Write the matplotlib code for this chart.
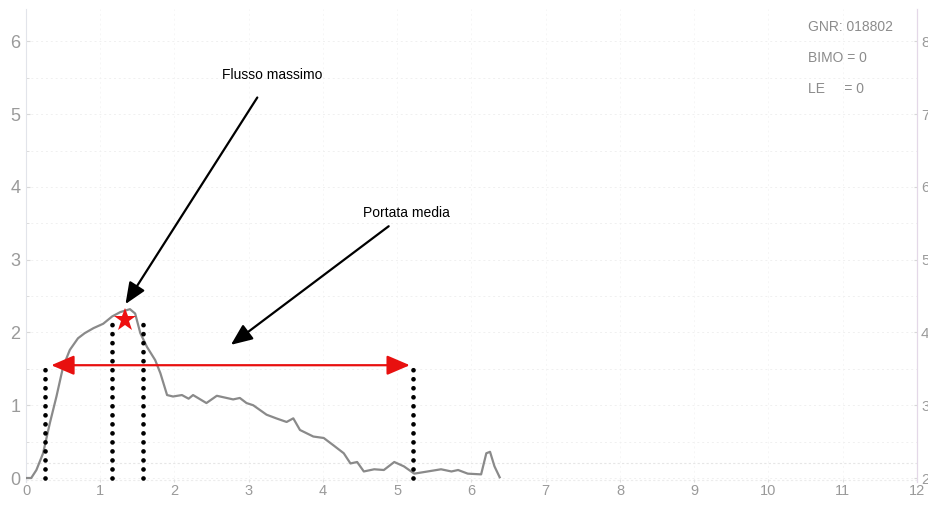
import matplotlib.pyplot as plt
from matplotlib.ticker import MultipleLocator

plt.rcParams["font.family"] = ["Liberation Sans", "DejaVu Sans"]

# flow curve (time in s, flow)
time_s = [0.00, 0.07, 0.14, 0.23, 0.32, 0.41, 0.50, 0.59, 0.70, 0.79, 0.91, 1.04,
          1.16, 1.27, 1.40, 1.47, 1.54, 1.63, 1.74, 1.81, 1.90, 1.98, 2.10, 2.19,
          2.25, 2.43, 2.57, 2.79, 2.88, 2.97, 3.06, 3.24, 3.37, 3.51, 3.60, 3.69,
          3.87, 4.01, 4.14, 4.28, 4.37, 4.46, 4.55, 4.69, 4.82, 4.96, 5.09, 5.23,
          5.41, 5.59, 5.73, 5.82, 5.95, 6.13, 6.20, 6.25, 6.31, 6.38]
flow = [0.00, 0.00, 0.11, 0.34, 0.75, 1.12, 1.53, 1.76, 1.92, 1.99, 2.06, 2.12,
        2.22, 2.28, 2.32, 2.26, 1.99, 1.80, 1.62, 1.44, 1.14, 1.12, 1.14, 1.09,
        1.14, 1.03, 1.13, 1.08, 1.10, 1.03, 1.00, 0.87, 0.82, 0.77, 0.82, 0.66,
        0.57, 0.55, 0.45, 0.34, 0.20, 0.22, 0.09, 0.12, 0.11, 0.22, 0.16, 0.06,
        0.09, 0.12, 0.09, 0.11, 0.06, 0.05, 0.34, 0.36, 0.16, 0.01]

# dotted markers: (x, height)
marker_x = [0.26, 1.16, 1.58, 5.21]
marker_top = [1.58, 2.12, 2.12, 1.51]

peak_x, peak_y = 1.34, 2.17
mean_y = 1.55
mean_start, mean_end = 0.34, 5.17

info_lines = ["GNR: 018802", "BIMO = 0", "LE     = 0"]

GRAY = "#9a9a9a"

fig = plt.figure(figsize=(9.29, 5.07), dpi=100)
ax = fig.add_axes([0.028, 0.050, 0.959, 0.933])
ax.set_xlim(0, 12)
ax.set_ylim(-0.05, 6.45)

ax.spines["top"].set_visible(False)
ax.spines["bottom"].set_visible(False)
for side in ["left", "right"]:
    ax.spines[side].set_color("#e2e4ea")
    ax.spines[side].set_linewidth(0.8)

ax.xaxis.set_major_locator(MultipleLocator(1))
ax.yaxis.set_major_locator(MultipleLocator(1))
ax.yaxis.set_minor_locator(MultipleLocator(0.5))
ax.tick_params(axis="y", colors="#d8d8d8", labelcolor=GRAY, labelsize=13,
               length=3, direction="in", pad=4)
ax.tick_params(axis="y", which="minor", colors="#d8d8d8", length=2, direction="in")
ax.tick_params(axis="x", colors="#e0e0e0", labelcolor=GRAY, labelsize=10.5,
               length=2, direction="in", pad=2)
ax.grid(axis="y", which="both", color="#f0f0f0", linestyle=(0, (2, 3)), linewidth=0.7)
ax.grid(axis="x", color="#f6f6f6", linestyle=(0, (2, 3)), linewidth=0.7)
ax.axhline(0.2, color="#e6e6e6", linestyle=(0, (2, 2)), linewidth=0.8, zorder=1)
ax.axhline(-0.03, color="#ececec", linestyle=(0, (2, 2)), linewidth=0.8, zorder=1)

ax2 = ax.twinx()
ax2.set_ylim(1.95, 8.45)
ax2.yaxis.set_major_locator(MultipleLocator(1))
ax2.tick_params(axis="y", colors="#d8d8d8", labelcolor=GRAY, labelsize=11,
                length=2, direction="in", pad=3)
ax2.spines["right"].set_color("#e4d8e8")
for side in ["top", "left", "bottom"]:
    ax2.spines[side].set_visible(False)

ax.plot(time_s, flow, color="#8a8a8a", linewidth=1.6, zorder=3)

for mx, top in zip(marker_x, marker_top):
    ax.plot([mx, mx], [0.0, top], color="black", linewidth=3.4,
            linestyle=(0, (0.01, 1.9)), dash_capstyle="round", zorder=4)

ax.annotate("", xy=(mean_start, mean_y), xytext=(mean_end, mean_y),
            arrowprops=dict(arrowstyle="<|-|>,head_length=1.4,head_width=0.6",
                            color="#e8100f", linewidth=1.6, shrinkA=0, shrinkB=0),
            zorder=5)
ax.plot(peak_x, peak_y, marker="*", markersize=17, color="#ee1010",
        markeredgewidth=0, zorder=6)

ax.annotate("Flusso massimo", xy=(1.34, 2.39), xytext=(3.31, 5.54),
            ha="center", va="center", fontsize=10,
            arrowprops=dict(arrowstyle="-|>,head_length=1.3,head_width=0.55",
                            color="black", linewidth=1.6, shrinkA=11, shrinkB=0))
ax.annotate("Portata media", xy=(2.76, 1.83), xytext=(5.12, 3.64),
            ha="center", va="center", fontsize=10,
            arrowprops=dict(arrowstyle="-|>,head_length=1.3,head_width=0.55",
                            color="black", linewidth=1.6, shrinkA=4, shrinkB=0))

for i, line in enumerate(info_lines):
    fig.text(808 / 929, 1 - (27 + 31 * i) / 507, line, color="#8c8c8c",
             fontsize=10, ha="left", va="center")

fig.savefig("out.png", dpi=100, facecolor="white")
